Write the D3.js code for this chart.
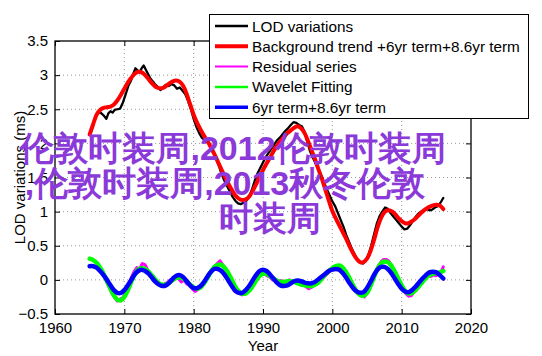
<!DOCTYPE html>
<html><head><meta charset="utf-8">
<script src="https://cdn.jsdelivr.net/npm/d3@7"></script>
<style>
html,body{margin:0;padding:0;background:#fff;}
svg{display:block;}
text{font-family:"Liberation Sans",Arial,Helvetica,sans-serif;}
</style></head>
<body>
<script>
// ---------- data ----------
const xTicks = [1960,1970,1980,1990,2000,2010,2020];
const yTicks = [-0.5,0,0.5,1,1.5,2,2.5,3,3.5];
const yTickLabels = ["\u22120.5","0","0.5","1","1.5","2","2.5","3","3.5"];

const lodYears = [1965.0,1965.3,1965.6,1966.0,1966.4,1966.8,1967.1,1967.4,1967.7,1968.0,1968.3,1968.6,1969.0,1969.4,1969.8,1970.2,1970.6,1971.0,1971.3,1971.6,1971.9,1972.2,1972.5,1972.8,1973.1,1973.4,1973.7,1974.0,1974.4,1974.8,1975.2,1975.6,1976.0,1976.4,1976.8,1977.2,1977.6,1978.0,1978.4,1978.8,1979.2,1979.6,1980.0,1980.4,1980.8,1981.2,1981.6,1982.0,1982.4,1982.8,1983.2,1983.6,1984.0,1984.4,1984.8,1985.2,1985.6,1986.0,1986.4,1986.8,1987.2,1987.6,1988.0,1988.4,1988.8,1989.2,1989.6,1990.0,1990.4,1990.8,1991.2,1991.6,1992.0,1992.4,1992.8,1993.2,1993.6,1994.0,1994.4,1994.8,1995.2,1995.6,1996.0,1996.4,1996.8,1997.2,1997.6,1998.0,1998.4,1998.8,1999.2,1999.6,2000.0,2000.4,2000.8,2001.2,2001.6,2002.0,2002.4,2002.8,2003.2,2003.6,2004.0,2004.4,2004.8,2005.2,2005.6,2006.0,2006.4,2006.8,2007.2,2007.6,2008.0,2008.4,2008.8,2009.2,2009.6,2010.0,2010.4,2010.8,2011.2,2011.6,2012.0,2012.4,2012.8,2013.2,2013.6,2014.0,2014.4,2014.8,2015.2,2015.6,2016.0];
const lodValues = [2.12,2.20,2.32,2.42,2.46,2.43,2.40,2.36,2.44,2.47,2.45,2.49,2.50,2.51,2.60,2.72,2.85,2.93,3.02,3.10,3.07,3.04,3.10,3.14,3.08,3.02,2.96,2.92,2.87,2.83,2.78,2.82,2.86,2.84,2.87,2.85,2.80,2.82,2.77,2.72,2.62,2.50,2.36,2.24,2.15,2.08,2.05,2.03,1.97,1.88,1.78,1.68,1.56,1.46,1.38,1.30,1.22,1.16,1.12,1.11,1.13,1.16,1.22,1.32,1.45,1.56,1.64,1.72,1.80,1.86,1.92,1.98,2.04,2.08,2.13,2.18,2.22,2.27,2.31,2.30,2.27,2.25,2.17,2.02,1.88,1.79,1.70,1.62,1.53,1.43,1.33,1.24,1.15,1.08,0.98,0.88,0.78,0.66,0.56,0.46,0.38,0.30,0.26,0.24,0.27,0.36,0.50,0.66,0.82,0.93,1.00,1.06,1.04,0.98,0.93,0.88,0.83,0.78,0.74,0.75,0.80,0.86,0.92,0.97,1.00,1.02,1.04,1.02,1.03,1.06,1.08,1.13,1.20];

const trendYears = [1965.0,1965.5,1966.0,1966.5,1967.0,1967.5,1968.0,1968.5,1969.0,1969.5,1970.0,1970.5,1971.0,1971.5,1972.0,1972.5,1973.0,1973.5,1974.0,1974.5,1975.0,1975.5,1976.0,1976.5,1977.0,1977.5,1978.0,1978.5,1979.0,1979.5,1980.0,1980.5,1981.0,1981.5,1982.0,1982.5,1983.0,1983.5,1984.0,1984.5,1985.0,1985.5,1986.0,1986.5,1987.0,1987.5,1988.0,1988.5,1989.0,1989.5,1990.0,1990.5,1991.0,1991.5,1992.0,1992.5,1993.0,1993.5,1994.0,1994.5,1995.0,1995.5,1996.0,1996.5,1997.0,1997.5,1998.0,1998.5,1999.0,1999.5,2000.0,2000.5,2001.0,2001.5,2002.0,2002.5,2003.0,2003.5,2004.0,2004.5,2005.0,2005.5,2006.0,2006.5,2007.0,2007.5,2008.0,2008.5,2009.0,2009.5,2010.0,2010.5,2011.0,2011.5,2012.0,2012.5,2013.0,2013.5,2014.0,2014.5,2015.0,2015.5,2016.0];
const trendValues = [2.13,2.28,2.42,2.49,2.52,2.53,2.54,2.57,2.63,2.71,2.80,2.89,2.96,3.02,3.05,3.04,3.00,2.94,2.88,2.83,2.81,2.81,2.84,2.88,2.91,2.92,2.90,2.84,2.72,2.57,2.42,2.30,2.20,2.11,2.03,1.94,1.84,1.73,1.62,1.51,1.41,1.32,1.24,1.19,1.17,1.18,1.22,1.30,1.40,1.51,1.61,1.70,1.79,1.88,1.96,2.03,2.09,2.15,2.19,2.23,2.25,2.22,2.15,2.03,1.90,1.77,1.62,1.48,1.32,1.16,1.01,0.90,0.80,0.70,0.60,0.49,0.39,0.31,0.26,0.26,0.31,0.42,0.58,0.76,0.90,0.99,1.02,1.01,0.97,0.91,0.86,0.83,0.83,0.86,0.90,0.95,1.00,1.04,1.07,1.09,1.10,1.09,1.04];

const residYears = [1965.0,1965.4,1965.8,1966.2,1966.6,1967.0,1967.4,1967.8,1968.2,1968.6,1969.0,1969.4,1969.8,1970.2,1970.6,1971.0,1971.4,1971.8,1972.2,1972.6,1973.0,1973.4,1973.8,1974.2,1974.6,1975.0,1975.4,1975.8,1976.2,1976.6,1977.0,1977.4,1977.8,1978.2,1978.6,1979.0,1979.4,1979.8,1980.2,1980.6,1981.0,1981.4,1981.8,1982.2,1982.6,1983.0,1983.4,1983.8,1984.2,1984.6,1985.0,1985.4,1985.8,1986.2,1986.6,1987.0,1987.4,1987.8,1988.2,1988.6,1989.0,1989.4,1989.8,1990.2,1990.6,1991.0,1991.4,1991.8,1992.2,1992.6,1993.0,1993.4,1993.8,1994.2,1994.6,1995.0,1995.4,1995.8,1996.2,1996.6,1997.0,1997.4,1997.8,1998.2,1998.6,1999.0,1999.4,1999.8,2000.2,2000.6,2001.0,2001.4,2001.8,2002.2,2002.6,2003.0,2003.4,2003.8,2004.2,2004.6,2005.0,2005.4,2005.8,2006.2,2006.6,2007.0,2007.4,2007.8,2008.2,2008.6,2009.0,2009.4,2009.8,2010.2,2010.6,2011.0,2011.4,2011.8,2012.2,2012.6,2013.0,2013.4,2013.8,2014.2,2014.6,2015.0,2015.4,2015.8,2016.0];
const residValues = [0.31,0.30,0.27,0.24,0.15,0.10,-0.02,-0.10,-0.19,-0.26,-0.31,-0.28,-0.26,-0.18,-0.08,0.03,0.12,0.18,0.16,0.24,0.22,0.14,0.08,0.05,-0.02,-0.06,-0.09,-0.06,-0.04,0.00,-0.01,0.04,0.02,-0.03,0.00,-0.06,-0.08,-0.13,-0.17,-0.14,-0.10,-0.05,0.02,0.08,0.14,0.20,0.24,0.28,0.22,0.17,0.08,0.02,-0.08,-0.15,-0.20,-0.22,-0.19,-0.17,-0.13,-0.06,0.02,0.07,0.10,0.09,0.06,0.04,0.00,-0.02,-0.03,-0.01,-0.03,-0.02,0.00,-0.02,-0.04,-0.03,-0.07,-0.06,-0.10,-0.13,-0.11,-0.07,-0.06,-0.02,0.03,0.06,0.10,0.15,0.18,0.19,0.20,0.16,0.12,0.06,-0.04,-0.10,-0.17,-0.21,-0.23,-0.25,-0.20,-0.12,0.00,0.10,0.20,0.26,0.30,0.30,0.27,0.20,0.13,0.05,-0.04,-0.12,-0.20,-0.24,-0.23,-0.18,-0.14,-0.08,-0.03,0.02,0.07,0.05,0.07,0.06,0.10,0.14,0.19];

const fitYears = [1965.0,1965.5,1966.0,1966.5,1967.0,1967.5,1968.0,1968.5,1969.0,1969.5,1970.0,1970.5,1971.0,1971.5,1972.0,1972.5,1973.0,1973.5,1974.0,1974.5,1975.0,1975.5,1976.0,1976.5,1977.0,1977.5,1978.0,1978.5,1979.0,1979.5,1980.0,1980.5,1981.0,1981.5,1982.0,1982.5,1983.0,1983.5,1984.0,1984.5,1985.0,1985.5,1986.0,1986.5,1987.0,1987.5,1988.0,1988.5,1989.0,1989.5,1990.0,1990.5,1991.0,1991.5,1992.0,1992.5,1993.0,1993.5,1994.0,1994.5,1995.0,1995.5,1996.0,1996.5,1997.0,1997.5,1998.0,1998.5,1999.0,1999.5,2000.0,2000.5,2001.0,2001.5,2002.0,2002.5,2003.0,2003.5,2004.0,2004.5,2005.0,2005.5,2006.0,2006.5,2007.0,2007.5,2008.0,2008.5,2009.0,2009.5,2010.0,2010.5,2011.0,2011.5,2012.0,2012.5,2013.0,2013.5,2014.0,2014.5,2015.0,2015.5,2016.0];
const waveletValues = [0.31,0.29,0.25,0.18,0.09,-0.02,-0.13,-0.23,-0.29,-0.30,-0.25,-0.15,-0.03,0.08,0.15,0.17,0.16,0.12,0.06,0.00,-0.05,-0.07,-0.07,-0.04,0.00,0.03,0.04,0.02,-0.02,-0.07,-0.11,-0.13,-0.11,-0.05,0.03,0.12,0.19,0.22,0.22,0.17,0.10,0.00,-0.10,-0.17,-0.20,-0.20,-0.16,-0.09,-0.01,0.06,0.09,0.09,0.06,0.02,-0.01,-0.03,-0.03,-0.02,-0.02,-0.03,-0.05,-0.07,-0.08,-0.09,-0.09,-0.07,-0.04,0.02,0.08,0.13,0.17,0.20,0.21,0.18,0.11,0.02,-0.08,-0.17,-0.22,-0.23,-0.19,-0.09,0.04,0.16,0.24,0.27,0.26,0.21,0.12,0.02,-0.08,-0.16,-0.20,-0.19,-0.15,-0.09,-0.03,0.03,0.07,0.09,0.10,0.11,0.13];
const termValues = [0.20,0.20,0.18,0.13,0.07,0.00,-0.08,-0.15,-0.19,-0.19,-0.15,-0.08,0.00,0.08,0.13,0.15,0.13,0.09,0.03,-0.03,-0.07,-0.09,-0.08,-0.04,0.02,0.06,0.07,0.04,-0.02,-0.08,-0.12,-0.12,-0.09,-0.03,0.05,0.12,0.16,0.16,0.13,0.07,-0.01,-0.09,-0.16,-0.19,-0.19,-0.15,-0.09,-0.01,0.07,0.13,0.15,0.13,0.08,0.02,-0.04,-0.08,-0.09,-0.08,-0.05,-0.02,-0.01,-0.02,-0.04,-0.05,-0.05,-0.03,0.01,0.05,0.09,0.13,0.15,0.16,0.15,0.10,0.03,-0.05,-0.12,-0.17,-0.19,-0.18,-0.12,-0.03,0.07,0.15,0.19,0.19,0.16,0.10,0.02,-0.06,-0.13,-0.17,-0.18,-0.15,-0.10,-0.04,0.02,0.07,0.11,0.12,0.11,0.07,0.02];

const legendLabels = ["LOD variations","Background trend +6yr term+8.6yr term","Residual series","Wavelet Fitting","6yr term+8.6yr term"];
const seriesColors = ["#000000","#ff0000","#ff00ff","#00ff00","#0000ff"];
const watermarkLines = ["伦敦时装周,2012伦敦时装周", ",伦敦时装周,2013秋冬伦敦", "时装周"];

// ---------- layout ----------
const W = 542, H = 356;
const L = 55, R = 471, T = 41, B = 314;
const svg = d3.select("body").append("svg").attr("width", W).attr("height", H);

const x = d3.scaleLinear().domain([1960, 2020]).range([L, R]);
const y = d3.scaleLinear().domain([-0.5, 3.5]).range([B, T]);

// grid
const grid = svg.append("g");
xTicks.slice(1, -1).forEach(t => {
  grid.append("line").attr("x1", x(t)).attr("x2", x(t)).attr("y1", T).attr("y2", B)
    .attr("stroke", "#9a9a9a").attr("stroke-width", 1).attr("stroke-dasharray", "1,3");
});
yTicks.slice(1, -1).forEach(t => {
  grid.append("line").attr("x1", L).attr("x2", R).attr("y1", y(t)).attr("y2", y(t))
    .attr("stroke", "#9a9a9a").attr("stroke-width", 1).attr("stroke-dasharray", "1,3");
});

// axes (inward ticks on all sides)
const tickLen = 5;
const xB = d3.axisBottom(x).tickValues(xTicks).tickSizeInner(-tickLen).tickSizeOuter(0).tickPadding(8).tickFormat(d3.format("d"));
const xT = d3.axisTop(x).tickValues(xTicks).tickSizeInner(-tickLen).tickSizeOuter(0).tickFormat("");
const yL = d3.axisLeft(y).tickValues(yTicks).tickSizeInner(-tickLen).tickSizeOuter(0).tickPadding(7).tickFormat((d, i) => yTickLabels[i]);
const yR = d3.axisRight(y).tickValues(yTicks).tickSizeInner(-tickLen).tickSizeOuter(0).tickFormat("");

function styleAxis(g) {
  g.selectAll(".domain").remove();
  g.selectAll("line").attr("stroke", "#000").attr("stroke-width", 1);
  g.selectAll("text").attr("font-size", 15).attr("fill", "#000")
    .attr("font-family", "'Liberation Sans', Arial, sans-serif");
}
svg.append("g").attr("transform", `translate(0,${B})`).call(xB).call(styleAxis);
svg.append("g").attr("transform", `translate(0,${T})`).call(xT).call(styleAxis);
svg.append("g").attr("transform", `translate(${L},0)`).call(yL).call(styleAxis);
svg.append("g").attr("transform", `translate(${R},0)`).call(yR).call(styleAxis);

// series
function series(years, vals) { return years.map((yr, i) => [yr, vals[i]]); }
const lineLin = d3.line().x(d => x(d[0])).y(d => y(d[1]));
const lineSmooth = d3.line().x(d => x(d[0])).y(d => y(d[1])).curve(d3.curveCatmullRom.alpha(0.5));

const plots = [
  {data: series(lodYears, lodValues), gen: lineLin, w: 2.3},
  {data: series(trendYears, trendValues), gen: lineSmooth, w: 4},
  {data: series(residYears, residValues), gen: lineLin, w: 3},
  {data: series(fitYears, waveletValues), gen: lineSmooth, w: 4.5},
  {data: series(fitYears, termValues), gen: lineSmooth, w: 4.5}
];
plots.forEach((p, i) => {
  svg.append("path").datum(p.data).attr("d", p.gen)
    .attr("fill", "none").attr("stroke", seriesColors[i]).attr("stroke-width", p.w)
    .attr("stroke-linejoin", "round").attr("stroke-linecap", "round");
});

// box
svg.append("rect").attr("x", L).attr("y", T).attr("width", R - L).attr("height", B - T)
  .attr("fill", "none").attr("stroke", "#000").attr("stroke-width", 1.3);

// axis labels
svg.append("text").attr("x", 263).attr("y", 351).attr("text-anchor", "middle")
  .attr("font-size", 15).text("Year");
svg.append("text").attr("transform", `translate(25,${(T + B) / 2}) rotate(-90)`)
  .attr("text-anchor", "middle").attr("font-size", 15).text("LOD variations (ms)");

// legend
const lg = svg.append("g");
lg.append("rect").attr("x", 209.5).attr("y", 14.5).attr("width", 319).attr("height", 104)
  .attr("fill", "#fff").attr("stroke", "#000").attr("stroke-width", 1);
const legW = [2.5, 4, 2, 2.5, 3.5];
legendLabels.forEach((lab, i) => {
  const yy = 26 + i * 20.3;
  lg.append("line").attr("x1", 215).attr("x2", 248).attr("y1", yy).attr("y2", yy)
    .attr("stroke", seriesColors[i]).attr("stroke-width", legW[i]);
  lg.append("text").attr("x", 252).attr("y", yy + 5.5).attr("font-size", 15.3).text(lab);
});

// watermark
const wm = svg.append("g").attr("font-family", "'Noto Sans CJK SC','Noto Sans CJK JP',sans-serif")
  .attr("font-weight", "bold").attr("font-size", 34).attr("fill", "#8b3ad9").attr("text-anchor", "middle");
const wmX = [233, 225, 270], wmY = [160, 195, 230];
watermarkLines.forEach((s, i) => {
  wm.append("text").attr("x", wmX[i]).attr("y", wmY[i]).text(s)
    .attr("font-family", "'Noto Sans CJK SC','Noto Sans CJK JP',sans-serif");
});
</script>
</body></html>
